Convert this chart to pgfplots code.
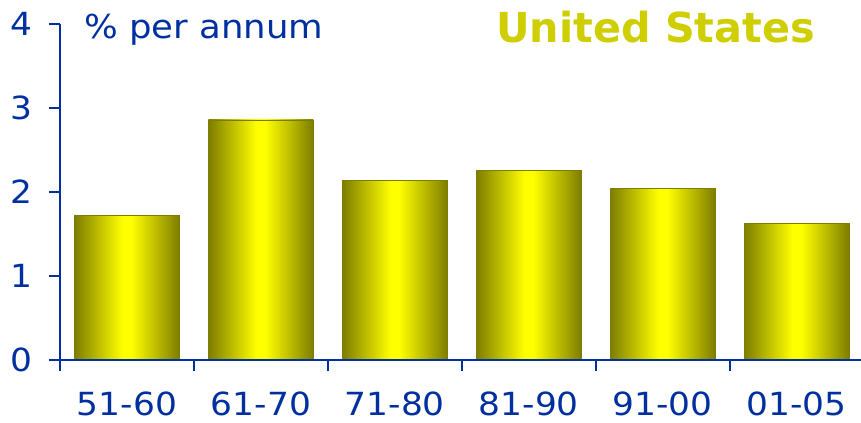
\documentclass[border=0pt]{standalone}
\usepackage{pgfplots}
\pgfplotsset{compat=1.18}
\usepackage{fontspec}
\setmainfont{DejaVu Sans}[FakeStretch=1.08]
\newfontfamily\titlefont{DejaVu Sans}
\definecolor{myblue}{RGB}{0,48,160}
\definecolor{olivedark}{RGB}{125,125,0}
\definecolor{brightyellow}{RGB}{255,255,0}
\definecolor{titleyellow}{RGB}{206,206,0}
\pgfdeclarehorizontalshading{barshade}{100bp}{color(0bp)=(olivedark); color(25bp)=(olivedark); color(48bp)=(brightyellow); color(52bp)=(brightyellow); color(75bp)=(olivedark); color(100bp)=(olivedark)}
\pgfplotsset{mybar/.style={draw=olivedark, line width=0.5bp, shade, shading=barshade}}
\begin{document}
\begin{tikzpicture}
\useasboundingbox (0,0) rectangle (861bp,423bp);
\begin{axis}[
  at={(60bp,63bp)}, anchor=south west,
  scale only axis, width=801bp, height=336bp,
  xmin=-0.5, xmax=5.48, ymin=0, ymax=4,
  axis x line=bottom, axis y line=left,
  x axis line style={-}, y axis line style={-},
  axis line style={myblue, line width=1.6bp},
  axis on top,
  ytick={0,1,2,3,4},
  xtick={-0.5,0.5,1.5,2.5,3.5,4.5},
  xticklabels={},
  extra x ticks={0,1,2,3,4,5},
  extra x tick labels={51-60,61-70,71-80,81-90,91-00,01-05},
  extra x tick style={major tick length=0pt, xticklabel style={yshift=-8bp}},
  tick align=outside,
  major tick length=11bp,
  tick style={myblue, line width=1.6bp},
  /pgf/number format/assume math mode=true,
  ticklabel style={font=\fontsize{32}{32}\selectfont, text=myblue},
  xticklabel style={yshift=-20bp},
  yticklabel style={xshift=-13bp},
  ybar, bar width=105bp, bar shift=0pt,
]
\addplot[mybar] coordinates {(0,1.72)};
\addplot[mybar] coordinates {(1,2.86)};
\addplot[mybar] coordinates {(2,2.14)};
\addplot[mybar] coordinates {(3,2.26)};
\addplot[mybar] coordinates {(4,2.04)};
\addplot[mybar] coordinates {(5,1.63)};
\end{axis}
\node[anchor=base west, inner sep=0pt, text=myblue, font=\fontsize{33}{33}\selectfont] at (84bp,384bp) {\% per annum};
\node[anchor=base west, inner sep=0pt, text=titleyellow, font=\titlefont\fontsize{41.5}{41.5}\selectfont\bfseries] at (496bp,380bp) {United States};
\end{tikzpicture}
\end{document}
